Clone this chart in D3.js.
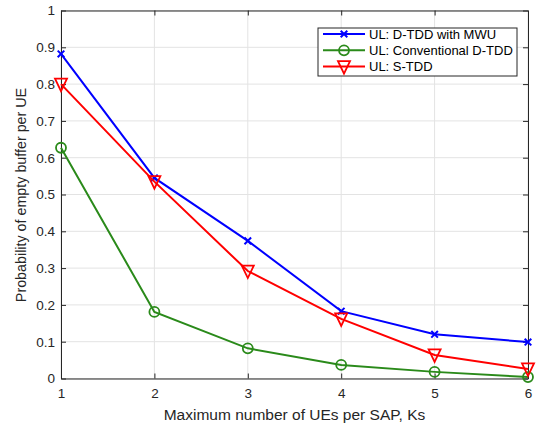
<!DOCTYPE html>
<html>
<head>
<meta charset="utf-8">
<script src="https://cdn.jsdelivr.net/npm/d3@7"></script>
<style>
  html, body { margin: 0; padding: 0; background: #fff; }
  svg { display: block; font-family: "Liberation Sans", Arial, Helvetica, sans-serif; }
</style>
</head>
<body>
<svg id="chart" width="539" height="428"></svg>
<script>
// Maximum number of UEs per SAP
const ks = [1, 2, 3, 4, 5, 6];
// Probability of empty buffer per UE for each scheme
const dtddMwu = [0.882, 0.545, 0.374, 0.183, 0.120, 0.099];
const conventionalDtdd = [0.627, 0.181, 0.082, 0.037, 0.018, 0.004];
const sTdd = [0.800, 0.535, 0.292, 0.162, 0.064, 0.026];

const seriesNames = ["UL: D-TDD with MWU", "UL: Conventional D-TDD", "UL: S-TDD"];
const seriesColors = ["#0000ff", "#2a8a1a", "#ff0000"];
const seriesMarkers = ["cross", "circle", "triangle"];
const seriesValues = [dtddMwu, conventionalDtdd, sTdd];

const xTicks = [1, 2, 3, 4, 5, 6];
const yTicks = [0, 0.1, 0.2, 0.3, 0.4, 0.5, 0.6, 0.7, 0.8, 0.9, 1];

const svg = d3.select("#chart");
const plotLeft = 61, plotRight = 528, plotTop = 10.5, plotBottom = 378.5;

const x = d3.scaleLinear().domain([1, 6]).range([plotLeft, plotRight]);
const y = d3.scaleLinear().domain([0, 1]).range([plotBottom, plotTop]);

const axisColor = "#262626";
const gridColor = "#e3e3e3";

// grid
const grid = svg.append("g");
grid.selectAll("line.gx").data(xTicks).enter().append("line")
  .attr("x1", d => x(d)).attr("x2", d => x(d))
  .attr("y1", plotTop).attr("y2", plotBottom)
  .attr("stroke", gridColor).attr("stroke-width", 1);
grid.selectAll("line.gy").data(yTicks).enter().append("line")
  .attr("x1", plotLeft).attr("x2", plotRight)
  .attr("y1", d => y(d)).attr("y2", d => y(d))
  .attr("stroke", gridColor).attr("stroke-width", 1);

// axes with inward ticks on all four sides
const tickLen = 5;
const bottomAxis = d3.axisBottom(x).tickValues(xTicks).tickFormat(d3.format("d")).tickSizeInner(-tickLen).tickSizeOuter(0).tickPadding(10);
const topAxis = d3.axisTop(x).tickValues(xTicks).tickFormat("").tickSizeInner(-tickLen).tickSizeOuter(0);
const leftAxis = d3.axisLeft(y).tickValues(yTicks).tickFormat(d => d3.format("~g")(d)).tickSizeInner(-tickLen).tickSizeOuter(0).tickPadding(6);
const rightAxis = d3.axisRight(y).tickValues(yTicks).tickFormat("").tickSizeInner(-tickLen).tickSizeOuter(0);

function styleAxis(g) {
  g.select(".domain").attr("stroke", axisColor).attr("stroke-width", 1);
  g.selectAll(".tick line").attr("stroke", axisColor).attr("stroke-width", 1);
  g.selectAll(".tick text").attr("fill", axisColor).attr("font-size", 13.5)
    .attr("font-family", "Liberation Sans, Arial, sans-serif");
}

svg.append("g").attr("transform", `translate(0,${plotBottom})`).call(bottomAxis).call(styleAxis);
svg.append("g").attr("transform", `translate(0,${plotTop})`).call(topAxis).call(styleAxis);
svg.append("g").attr("transform", `translate(${plotLeft},0)`).call(leftAxis).call(styleAxis);
svg.append("g").attr("transform", `translate(${plotRight},0)`).call(rightAxis).call(styleAxis);

// markers
function drawMarker(g, type, color, cx, cy) {
  if (type === "cross") {
    const s = 3.3;
    g.append("path")
      .attr("d", `M${cx - s},${cy - s}L${cx + s},${cy + s}M${cx - s},${cy + s}L${cx + s},${cy - s}`)
      .attr("stroke", color).attr("stroke-width", 2).attr("fill", "none");
  } else if (type === "circle") {
    g.append("circle").attr("cx", cx).attr("cy", cy).attr("r", 5)
      .attr("stroke", color).attr("stroke-width", 1.8).attr("fill", "none");
  } else {
    const w = 6, h = 5.5;
    g.append("path")
      .attr("d", `M${cx - w},${cy - h}L${cx + w},${cy - h}L${cx},${cy + h + 1.5}Z`)
      .attr("stroke", color).attr("stroke-width", 1.8).attr("fill", "none");
  }
}

const line = d3.line().x(d => x(d[0])).y(d => y(d[1]));
seriesValues.forEach((vals, i) => {
  const pts = ks.map((k, j) => [k, vals[j]]);
  const g = svg.append("g");
  g.append("path").datum(pts).attr("d", line)
    .attr("fill", "none").attr("stroke", seriesColors[i]).attr("stroke-width", 2);
  pts.forEach(p => drawMarker(g, seriesMarkers[i], seriesColors[i], x(p[0]), y(p[1])));
});

// axis labels
svg.append("text")
  .attr("x", (plotLeft + plotRight) / 2).attr("y", 420)
  .attr("text-anchor", "middle").attr("font-size", 15.5).attr("fill", axisColor)
  .text("Maximum number of UEs per SAP, Ks");
svg.append("text")
  .attr("transform", `translate(26,195) rotate(-90)`)
  .attr("text-anchor", "middle").attr("font-size", 14.3).attr("fill", axisColor)
  .text("Probability of empty buffer per UE");

// legend
const lg = svg.append("g");
const lx = 318, ly = 28, lw = 199, lh = 48;
lg.append("rect").attr("x", lx).attr("y", ly).attr("width", lw).attr("height", lh)
  .attr("fill", "#fff").attr("stroke", axisColor).attr("stroke-width", 1);
seriesNames.forEach((name, i) => {
  const ry = ly + 6 + i * 16.3;
  lg.append("line").attr("x1", lx + 5).attr("x2", lx + 47).attr("y1", ry).attr("y2", ry)
    .attr("stroke", seriesColors[i]).attr("stroke-width", 2);
  drawMarker(lg, seriesMarkers[i], seriesColors[i], lx + 26, ry);
  lg.append("text").attr("x", lx + 51).attr("y", ry + 4.5)
    .attr("font-size", 13).attr("fill", "#000").text(name);
});
</script>
</body>
</html>
